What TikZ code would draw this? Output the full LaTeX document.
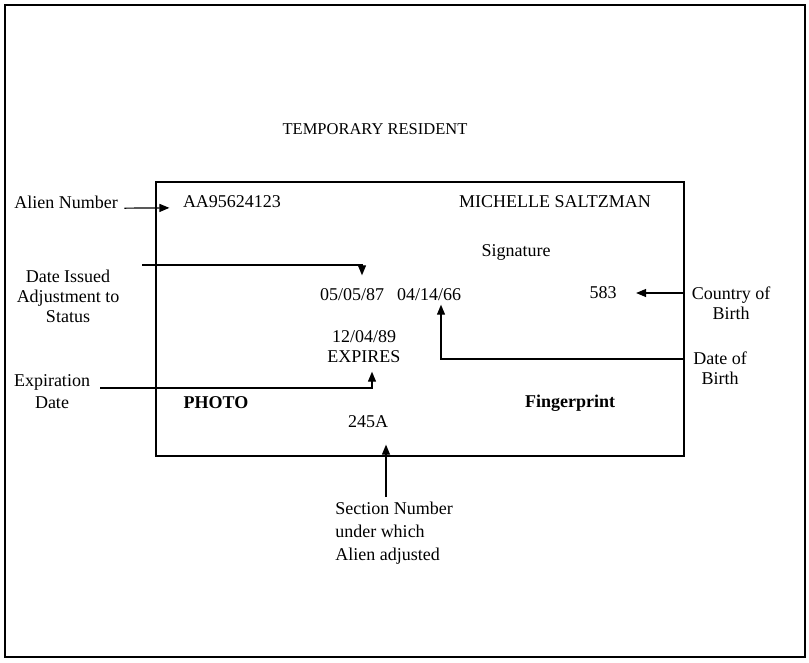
\documentclass[tikz,border=0pt]{standalone}
\usepackage{fontspec}
\setmainfont{Liberation Serif}
\usetikzlibrary{arrows.meta}

\begin{document}
\begin{tikzpicture}[x=1pt,y=-1pt,line width=1.2pt,
  every node/.style={inner sep=0pt,align=center,font=\fontsize{18}{20}\selectfont},
  arr/.style={-{Triangle[length=10pt,width=8pt]}}]
\useasboundingbox (0,0) rectangle (809,662);
\draw[line width=1.5pt] (5,5) rectangle (805,657);
\node[draw,line width=1.2pt,minimum width=528pt,minimum height=274pt](card) at (420,319){};
% card text
\node[font=\fontsize{16.5}{18}\selectfont](T) at (375,129){TEMPORARY RESIDENT};
\node(AA) at (232,202){AA95624123};
\node(MS) at (555,202){MICHELLE SALTZMAN};
\node(SG) at (516,252){Signature};
\node(D1) at (352,295){05/05/87};
\node(D2) at (429,295){04/14/66};
\node(C583) at (603,293){583};
\node(EX) at (364,347){12/04/89\\EXPIRES};
\node(PH) at (216,403){\bfseries PHOTO};
\node(FP) at (570,403){\bfseries Fingerprint};
\node(N245) at (368,422){245A};
% labels
\node(AN) at (66,202){Alien Number};
\node(DI) at (68,296){Date Issued\\Adjustment to\\Status};
\node(CB) at (731,303){Country of\\Birth};
\node(DB) at (720,368){Date of\\Birth};
\node[font=\fontsize{18}{22}\selectfont](ED) at (52,392){Expiration\\Date};
\node[align=left,font=\fontsize{18}{23}\selectfont](SN) at (394,533){Section Number\\under which\\Alien adjusted};
% connectors
\coordinate(DIs) at (142,265);
\coordinate(DBs) at (684,359);
\coordinate(EDs) at (100,388);
\coordinate(SNs) at (386,497);
\draw[arr]([xshift=6pt]AN.base east)--([xshift=-13pt]AA.base west);
\draw[arr](DIs)-|([xshift=10pt,yshift=13pt]D1.north);
\draw[arr](card.east|-C583.east)--([xshift=19pt]C583.east);
\draw[arr](DBs)-|([xshift=12pt,yshift=-3pt]D2.south);
\draw[arr](EDs)-|([xshift=8pt,yshift=-8pt]EX.south);
\draw[arr](SNs)--([xshift=18pt,yshift=-16pt]N245.south);
\end{tikzpicture}
\end{document}
